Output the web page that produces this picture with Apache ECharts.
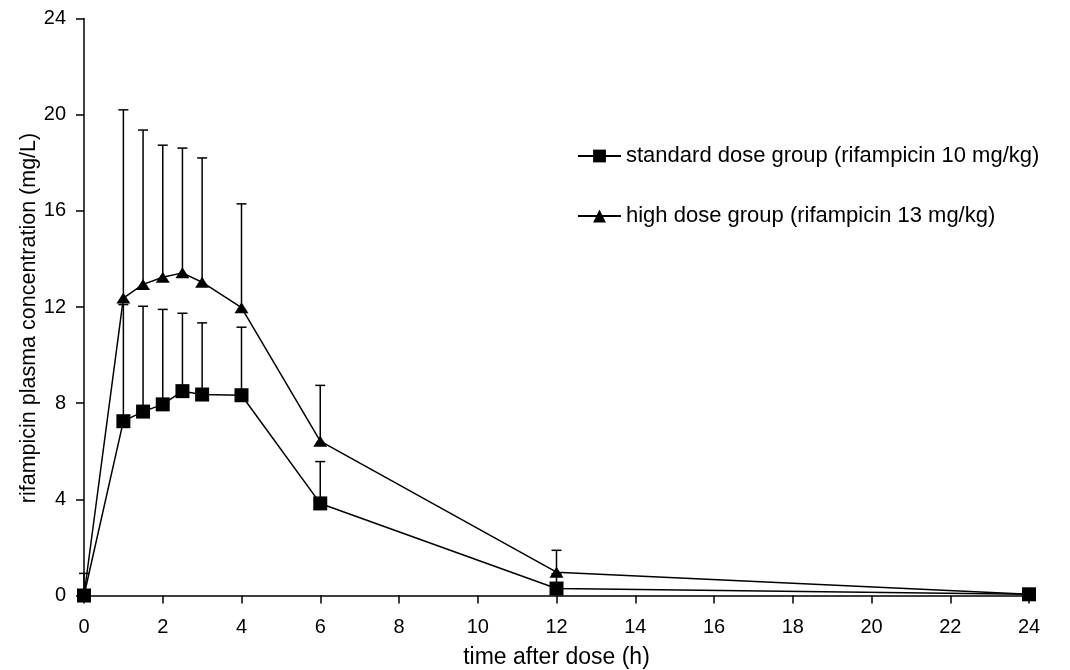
<!DOCTYPE html>
<html>
<head>
<meta charset="utf-8">
<script src="https://cdn.jsdelivr.net/npm/echarts@6/dist/echarts.min.js"></script>
<style>
html,body{margin:0;padding:0;background:#fff;}
#chart{width:1070px;height:670px;}
</style>
</head>
<body>
<div id="chart"></div>
<script>
const times = [0, 1, 1.5, 2, 2.5, 3, 4, 6, 12, 24];
const standardMean = [0, 7.25, 7.65, 7.95, 8.5, 8.36, 8.33, 3.83, 0.29, 0.05];
const standardUpper = [0, 12.1, 12.03, 11.9, 11.74, 11.34, 11.16, 5.57, 0.9, 0.05];
const highMean = [0, 12.37, 12.94, 13.24, 13.42, 13.03, 11.97, 6.42, 0.97, 0.05];
const highUpper = [0.92, 20.2, 19.36, 18.73, 18.61, 18.2, 16.29, 8.74, 1.88, 0.05];
const xTicks = [0, 2, 4, 6, 8, 10, 12, 14, 16, 18, 20, 22, 24];
const yTicks = [0, 4, 8, 12, 16, 20, 24];
const standardName = 'standard dose group (rifampicin 10 mg/kg)';
const highName = 'high dose group (rifampicin 13 mg/kg)';
const xTitle = 'time after dose (h)';
const yTitle = 'rifampicin plasma concentration (mg/L)';

const FONT = "'Liberation Sans', Arial, sans-serif";

function pairs(xs, ys) { return xs.map((x, i) => [x, ys[i]]); }
function errData(xs, m, u) { return xs.map((x, i) => [x, m[i], u[i]]); }

function renderErr(params, api) {
  const x = api.value(0), m = api.value(1), u = api.value(2);
  if (!(u > m)) return null;
  const p0 = api.coord([x, m]);
  const p1 = api.coord([x, u]);
  const st = { stroke: '#000', lineWidth: 1.5 };
  return {
    type: 'group',
    children: [
      { type: 'line', shape: { x1: p0[0], y1: p0[1], x2: p1[0], y2: p1[1] }, style: st },
      { type: 'line', shape: { x1: p1[0] - 5, y1: p1[1], x2: p1[0] + 5, y2: p1[1] }, style: st }
    ]
  };
}

const chart = echarts.init(document.getElementById('chart'), null, { renderer: 'canvas' });
chart.setOption({
  animation: false,
  backgroundColor: '#fff',
  textStyle: { fontFamily: FONT, color: '#000' },
  grid: { left: 84, right: 41, top: 18.5, bottom: 74.5, containLabel: false, outerBoundsMode: 'none' },
  legend: {
    data: [standardName, highName],
    orient: 'vertical',
    left: 577,
    top: 145,
    padding: 0,
    itemWidth: 43,
    itemHeight: 16,
    itemGap: 38,
    textStyle: { fontFamily: FONT, fontSize: 22, color: '#000' }
  },
  xAxis: {
    type: 'value',
    min: 0, max: 24, interval: 2,
    name: xTitle,
    nameLocation: 'middle',
    nameGap: 51,
    nameMoveOverlap: false,
    nameTextStyle: { fontFamily: FONT, fontSize: 23, color: '#000' },
    axisLine: { onZero: false, lineStyle: { color: '#000', width: 1.5 } },
    axisTick: { show: true, inside: false, length: 8, lineStyle: { color: '#000', width: 1.5 } },
    axisLabel: {
      fontFamily: FONT, fontSize: 20, color: '#000', margin: 22,
      customValues: xTicks
    },
    splitLine: { show: false }
  },
  yAxis: {
    type: 'value',
    min: 0, max: 24, interval: 4,
    name: yTitle,
    nameLocation: 'middle',
    nameGap: 44,
    nameMoveOverlap: false,
    nameRotate: 90,
    nameTextStyle: { fontFamily: FONT, fontSize: 21.5, color: '#000', padding: [0, 22, 0, 0] },
    axisLine: { show: true, lineStyle: { color: '#000', width: 1.5 } },
    axisTick: { show: true, inside: false, length: 8, lineStyle: { color: '#000', width: 1.5 } },
    axisLabel: { fontFamily: FONT, fontSize: 20, color: '#000', margin: 18, customValues: yTicks },
    splitLine: { show: false }
  },
  series: [
    {
      type: 'custom',
      name: 'high error',
      renderItem: renderErr,
      data: errData(times, highMean, highUpper),
      encode: { x: 0, y: [1, 2] },
      z: 1,
      silent: true
    },
    {
      type: 'custom',
      name: 'standard error',
      renderItem: renderErr,
      data: errData(times, standardMean, standardUpper),
      encode: { x: 0, y: [1, 2] },
      z: 1,
      silent: true
    },
    {
      type: 'line',
      name: highName,
      data: pairs(times, highMean),
      symbol: 'triangle',
      symbolSize: [14, 11],
      showAllSymbol: true,
      lineStyle: { color: '#000', width: 1.5 },
      itemStyle: { color: '#000', borderWidth: 0 },
      z: 3
    },
    {
      type: 'line',
      name: standardName,
      data: pairs(times, standardMean),
      symbol: 'rect',
      symbolSize: 14,
      showAllSymbol: true,
      lineStyle: { color: '#000', width: 1.5 },
      itemStyle: { color: '#000', borderWidth: 0 },
      z: 4
    }
  ]
});
</script>
</body>
</html>
